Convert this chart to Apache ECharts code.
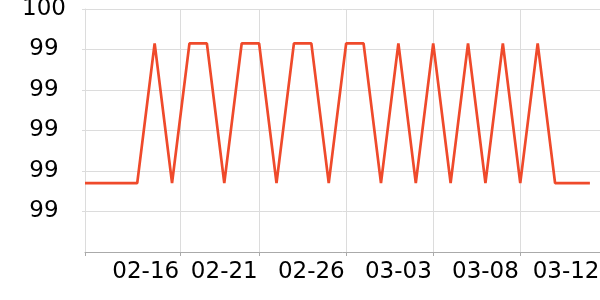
<!DOCTYPE html>
<html>
<head>
<meta charset="utf-8">
<script src="https://cdn.jsdelivr.net/npm/echarts@6/dist/echarts.min.js"></script>
<style>html,body{margin:0;padding:0;background:#fff}#c{width:600px;height:300px}</style>
</head>
<body>
<div id="c"></div>
<script>
// Dates for each data point (02-13 .. 03-14)
const dates = ['02-13','02-14','02-15','02-16','02-17','02-18','02-19','02-20','02-21','02-22',
  '02-23','02-24','02-25','02-26','02-27','02-28','03-01','03-02','03-03','03-04',
  '03-05','03-06','03-07','03-08','03-09','03-10','03-11','03-12','03-13','03-14'];
// Series values
const values = [99.57,99.57,99.57,99.57,99.915,99.57,99.915,99.915,99.57,99.915,
  99.915,99.57,99.915,99.915,99.57,99.915,99.915,99.57,99.915,99.57,
  99.915,99.57,99.915,99.57,99.915,99.57,99.915,99.57,99.57,99.57];
// X tick label texts
const xTickLabels = ['02-16','02-21','02-26','03-03','03-08','03-12'];
// Y tick label texts (top to bottom)
const yTickLabels = ['100','99','99','99','99','99'];

const seriesData = values.map((v, i) => [i, v]);
const xLabelPos = [3.49, 8, 13, 18, 23, 27.63];
const xTickPos = [0, 5.47, 10, 15, 20, 25];

const chart = echarts.init(document.getElementById('c'), null, {renderer: 'canvas'});
chart.setOption({
  animation: false,
  grid: {left: 85, right: 0, top: 9, bottom: 48, outerBoundsMode: 'none'},
  xAxis: {
    type: 'value', min: 0, max: 29.58,
    axisLine: {show: true, lineStyle: {color: '#aaaaaa', width: 1}},
    axisTick: {show: true, length: 4, customValues: xTickPos, lineStyle: {color: '#aaaaaa'}},
    splitLine: {show: true, lineStyle: {color: '#dcdcdc', width: 1}},
    axisLabel: {
      customValues: xLabelPos,
      formatter: v => xTickLabels[xLabelPos.indexOf(v)] !== undefined ? xTickLabels[xLabelPos.indexOf(v)] : dates[Math.floor(v)],
      color: '#000', fontFamily: 'DejaVu Sans', fontSize: 23, margin: 9,
      hideOverlap: false
    }
  },
  yAxis: {
    type: 'value', min: 99.4, max: 100, interval: 0.1,
    axisLine: {show: true, lineStyle: {color: '#dcdcdc'}},
    axisTick: {show: true, length: 3, lineStyle: {color: '#dcdcdc'}},
    splitLine: {show: true, lineStyle: {color: '#dcdcdc', width: 1}},
    axisLabel: {
      showMinLabel: false,
      formatter: (v) => {
        const k = Math.round((100 - v) / 0.1);
        return yTickLabels[k] !== undefined ? yTickLabels[k] : '';
      },
      color: '#000', fontFamily: 'DejaVu Sans', fontSize: 23, align: 'center', margin: 41
    }
  },
  series: [{
    type: 'line', data: seriesData, showSymbol: false, symbol: 'none',
    lineStyle: {color: '#ef4a2b', width: 2.7},
    itemStyle: {color: '#ef4a2b'}
  }]
});
</script>
</body>
</html>
